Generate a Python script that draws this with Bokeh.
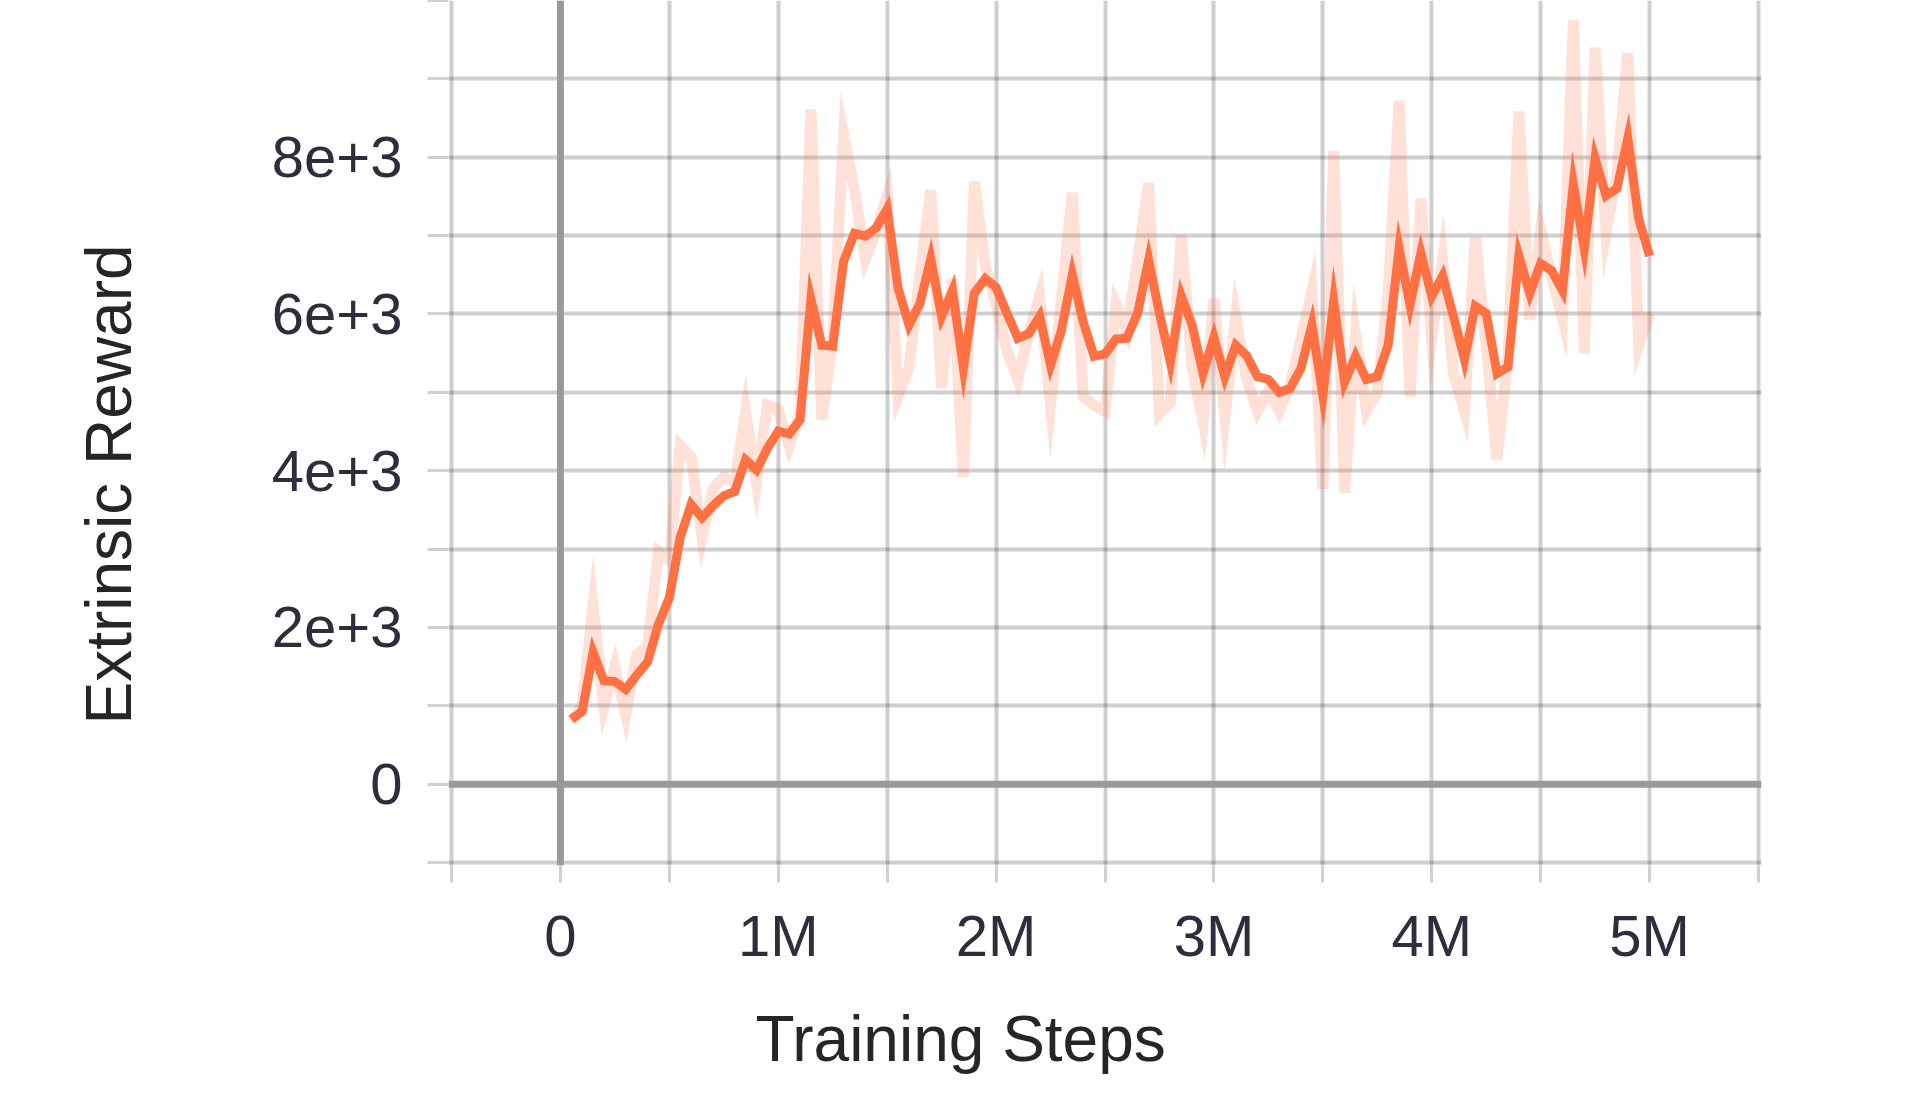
from bokeh.plotting import figure
from bokeh.models import Range1d, FixedTicker, Span, Title
from bokeh.embed import file_html
from bokeh.resources import INLINE

# ---- data -------------------------------------------------------------
steps = list(range(50_000, 5_000_001, 50_000))

smoothed = [
    828, 930, 1680, 1320, 1310, 1210, 1390, 1560, 2040, 2380,
    3150, 3570, 3400, 3550, 3680, 3735, 4140, 4010, 4285, 4505,
    4470, 4650, 6190, 5600, 5590, 6670, 7030, 6995, 7100, 7340,
    6330, 5860, 6130, 6700, 5970, 6300, 5310, 6265, 6450, 6340,
    6010, 5690, 5750, 5970, 5350, 5790, 6500, 5900, 5460, 5490,
    5680, 5690, 6010, 6690, 6010, 5385, 6230, 5860, 5240, 5700,
    5200, 5600, 5470, 5200, 5165, 5000, 5050, 5310, 5860, 4960,
    6160, 5130, 5460, 5165, 5200, 5600, 6835, 6117, 6777, 6227,
    6483, 5970, 5420, 6100, 6007, 5240, 5325, 6740, 6264, 6645,
    6557, 6300, 7655, 6835, 7985, 7510, 7600, 8240, 7215, 6740,
]

raw = [
    806, 1000, 2270, 990, 1500, 880, 1650, 1760, 2970, 2860,
    4320, 4175, 3150, 3770, 3920, 3850, 4760, 3850, 4835, 4780,
    4320, 4725, 8610, 4650, 5680, 8280, 7580, 6700, 7070, 7510,
    4945, 5310, 6500, 7580, 5055, 6450, 3920, 7690, 6630, 6120,
    5530, 5165, 5750, 6230, 4835, 6190, 7545, 4945, 4835, 4760,
    6120, 5790, 6700, 7670, 4725, 4870, 7000, 5310, 4615, 6190,
    4690, 5970, 5165, 4760, 5020, 4760, 5090, 5680, 6300, 3770,
    8080, 3720, 5735, 4760, 5000, 6265, 8720, 4945, 7470, 5680,
    6690, 5240, 4760, 6980, 5600, 4140, 5460, 8585, 5930, 7070,
    6480, 5930, 9745, 5495, 9400, 7030, 7800, 9325, 5600, 6010,
]

x_major = [0, 1_000_000, 2_000_000, 3_000_000, 4_000_000, 5_000_000]
x_labels = ["0", "1M", "2M", "3M", "4M", "5M"]
x_minor = [-500_000, 500_000, 1_500_000, 2_500_000, 3_500_000, 4_500_000, 5_500_000]

y_major = [0, 2000, 4000, 6000, 8000]
y_labels = ["0", "2e+3", "4e+3", "6e+3", "8e+3"]
y_minor = [-1000, 1000, 3000, 5000, 7000, 9000, 10000]

x_title = "Training Steps"
y_title = "Extrinsic Reward"

# ---- style ------------------------------------------------------------
ORANGE = "#ff7043"
FONT = "Liberation Sans"
TICK_COLOR = "#2d2d3c"
TITLE_COLOR = "#262626"
GRID = "rgba(0,0,0,0.19)"

p = figure(
    frame_width=1313, frame_height=865,
    x_range=Range1d(-513_761, 5_513_761),
    y_range=Range1d(-1037.4, 10000),
    min_border_left=448, min_border_right=147,
    min_border_top=0, min_border_bottom=245,
    output_backend="svg", toolbar_location=None,
)
p.title.visible = False
p.outline_line_color = None
p.background_fill_color = "white"
p.border_fill_color = "white"

xt = FixedTicker(ticks=x_major, minor_ticks=x_minor)
yt = FixedTicker(ticks=y_major, minor_ticks=y_minor)

for ax, tk, major, labels, out, standoff in (
    (p.xaxis[0], xt, x_major, x_labels, 17, 20),
    (p.yaxis[0], yt, y_major, y_labels, 21, 25),
):
    ax.ticker = tk
    ax.major_label_overrides = dict(zip(major, labels))
    ax.axis_line_color = None
    ax.major_tick_in = 0
    ax.minor_tick_in = 0
    ax.major_tick_out = out
    ax.minor_tick_out = out
    ax.major_tick_line_color = "#d0d0d0"
    ax.minor_tick_line_color = "#d0d0d0"
    ax.major_tick_line_width = 3
    ax.minor_tick_line_width = 3
    ax.major_label_text_font = FONT
    ax.major_label_text_font_size = "58px"
    ax.major_label_text_color = TICK_COLOR
    ax.major_label_standoff = standoff

# spacer between the y tick labels and the y title
p.yaxis[0].axis_label = " "
p.yaxis[0].axis_label_text_font_size = "1px"
p.yaxis[0].axis_label_standoff = 120

for g, tk in ((p.xgrid[0], xt), (p.ygrid[0], yt)):
    g.ticker = tk
    g.grid_line_color = GRID
    g.grid_line_width = 4
    g.minor_grid_line_color = GRID
    g.minor_grid_line_width = 4

for dim in ("width", "height"):
    p.add_layout(Span(location=0, dimension=dim, line_color="#999999",
                      line_width=7, level="underlay"))

p.line(steps, raw, line_color=ORANGE, line_alpha=0.21, line_width=11,
       line_join="miter")
p.line(steps, smoothed, line_color=ORANGE, line_width=9, line_join="miter")

p.add_layout(Title(text=x_title, align="left", offset=307, standoff=61,
                   text_font=FONT, text_font_size="64px",
                   text_font_style="normal", text_color=TITLE_COLOR), "below")
p.add_layout(Title(text=y_title, align="left", offset=141, standoff=0,
                   text_font=FONT, text_font_size="64px",
                   text_font_style="normal", text_color=TITLE_COLOR), "left")

open("out.html", "w").write(file_html(p, INLINE))
